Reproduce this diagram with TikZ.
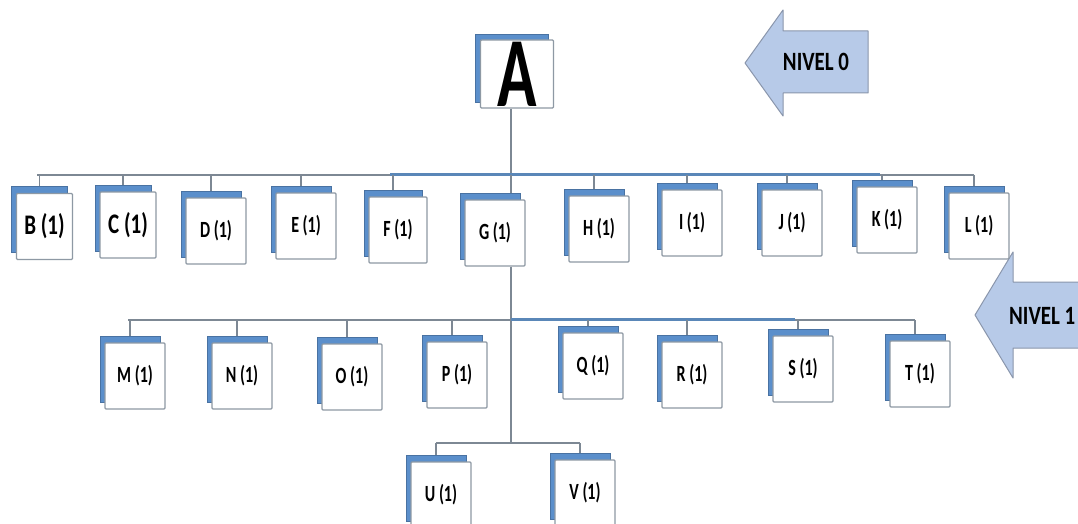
\documentclass[tikz,border=0pt]{standalone}
\usepackage{fontspec}
\setmainfont{Carlito}
\definecolor{cardblue}{HTML}{5B8FCB}
\definecolor{cardedge}{HTML}{8E99A4}
\definecolor{linegray}{HTML}{7D8894}
\definecolor{lineblue}{HTML}{5A87B8}
\definecolor{arrowfill}{HTML}{B7CAE8}
\definecolor{arrowedge}{HTML}{8A96AC}
\newcommand{\mycard}[5]{%
  \path (#2,#3) ++(-5,-7) node[backcard,minimum width=#5,minimum height=66] (#1b) {};
  \node[frontcard,minimum width=#5,minimum height=66] (#1) at (#2,#3) {#4};
}
\newcommand{\bigtxt}[1]{\scalebox{1}[1.35]{\fontsize{21}{23}\selectfont\bfseries #1}}
\newcommand{\smtxt}[1]{\scalebox{1}[1.45]{\fontsize{16}{18}\selectfont\bfseries #1}}
\begin{document}
\begin{tikzpicture}[x=1pt,y=-1pt,
  backcard/.style={rectangle,fill=cardblue,draw=cardblue!80!black,line width=0.5pt,inner sep=0pt},
  frontcard/.style={rectangle,fill=white,draw=cardedge,line width=1.1pt,inner sep=0pt,rounded corners=1pt},
  conn/.style={draw=linegray,line width=1.3pt},
  thick blue/.style={draw=lineblue,line width=3pt},
  levelarrow/.style={fill=arrowfill,draw=arrowedge,line width=1pt,line join=round},
  leveltext/.style={inner sep=0pt,font=\fontsize{22}{24}\selectfont\bfseries}
]
\useasboundingbox[fill=white] (0,0) rectangle (1078,524);

% level arrows
\draw[levelarrow] (745,63) -- (783,10) -- (783,31) -- (868,31) -- (868,93) -- (783,93) -- (783,116) -- cycle;
\node[leveltext] (n0) at (816,62) {\scalebox{0.95}[1.2]{NIVEL 0}};
\draw[levelarrow] (975,315) -- (1013,252) -- (1013,282) -- (1090,282) -- (1090,348) -- (1013,348) -- (1013,378) -- cycle;
\node[leveltext,anchor=west] (n1) at (1009,316) {\scalebox{0.95}[1.2]{NIVEL 1}};

% junction coordinates
\coordinate (j1) at (511,175);
\coordinate (j1L) at (37,175);
\coordinate (j1R) at (974,175);
\coordinate (j2) at (511,320);
\coordinate (j2L) at (128,320);
\coordinate (j2R) at (915,320);
\coordinate (j3) at (511,443);
\coordinate (j3L) at (436,443);
\coordinate (j3R) at (580,443);

% root
\path (517,74) ++(-5,-6) node[backcard,minimum width=73,minimum height=68] (Ab) {};
\node[frontcard,minimum width=73,minimum height=68] (A) at (517,74)
  {\scalebox{1.05}[1.6]{\fontsize{62}{62}\selectfont\bfseries A}};

% level 1
\mycard{B}{44.5}{226.5}{\bigtxt{B (1)}}{56}
\mycard{C}{128}{225}{\bigtxt{C (1)}}{56}
\mycard{D}{216}{231}{\smtxt{D (1)}}{60}
\mycard{E}{306}{226}{\smtxt{E (1)}}{60}
\mycard{F}{398}{230}{\smtxt{F (1)}}{58}
\mycard{G}{495}{233}{\smtxt{G (1)}}{60}
\mycard{H}{599}{229}{\smtxt{H (1)}}{60}
\mycard{I}{692}{223}{\smtxt{I (1)}}{60}
\mycard{J}{792}{223}{\smtxt{J (1)}}{60}
\mycard{K}{887}{220}{\smtxt{K (1)}}{60}
\mycard{L}{979}{226}{\smtxt{L (1)}}{60}

% level 2
\mycard{M}{135}{376}{\smtxt{M (1)}}{60}
\mycard{N}{242}{376}{\smtxt{N (1)}}{60}
\mycard{O}{352}{377}{\smtxt{O (1)}}{60}
\mycard{P}{457}{375}{\smtxt{P (1)}}{60}
\mycard{Q}{593}{366}{\smtxt{Q (1)}}{60}
\mycard{R}{692}{375}{\smtxt{R (1)}}{60}
\mycard{S}{803}{369}{\smtxt{S (1)}}{60}
\mycard{T}{920}{374}{\smtxt{T (1)}}{60}

% level 3
\mycard{U}{441}{495}{\smtxt{U (1)}}{60}
\mycard{V}{585}{493}{\smtxt{V (1)}}{60}

% connectors
\draw[conn] (A.south -| j1) -- (j1);
\draw[conn] (j1L) -- (j1R);
\draw[thick blue] (390,174) -- (880,174);
\foreach \n in {B,C,D,E,F,H,I,J,K,L} {
  \draw[conn] (\n b.north) -- (\n b.north |- j1);
}
\draw[conn] (j1) -- (j1 |- Gb.north);
\draw[conn] (G.south -| j2) -- (j3);
\draw[conn] (j2L) -- (j2R);
\draw[thick blue] (511,319) -- (795,319);
\foreach \n in {M,N,O,P,Q,R,S,T} {
  \draw[conn] (\n b.north) -- (\n b.north |- j2);
}
\draw[conn] (j3L) -- (j3R);
\draw[conn] (j3L) -- (Ub.north);
\draw[conn] (j3R) -- (Vb.north);
\end{tikzpicture}
\end{document}
